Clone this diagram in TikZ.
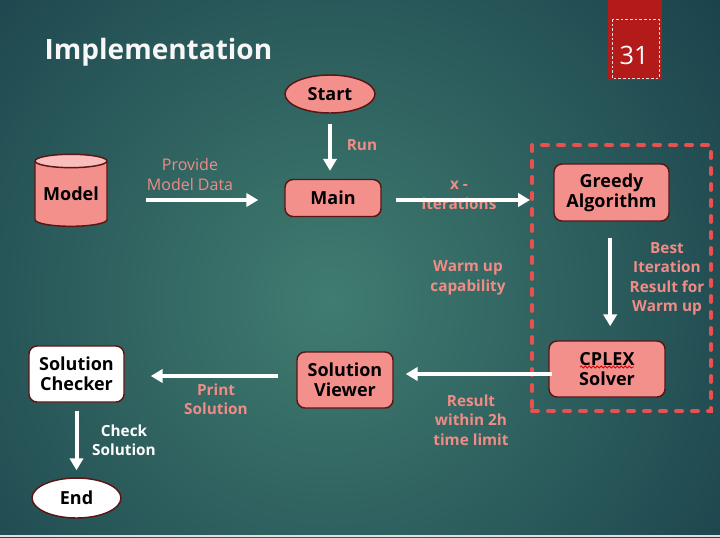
\documentclass[tikz,border=0pt]{standalone}
\usepackage{fontspec}
\setmainfont{Open Sans}
\usetikzlibrary{arrows.meta,shapes.geometric,decorations.pathmorphing}
\newdimen\pu \pu=0.75pt
\definecolor{bginner}{HTML}{407C70}
\definecolor{bgouter}{HTML}{133644}
\definecolor{boxfill}{HTML}{F4908C}
\definecolor{boxtop}{HTML}{F9BDBB}
\definecolor{boxedge}{HTML}{5C1515}
\definecolor{lblcol}{HTML}{F08C86}
\definecolor{dashcol}{HTML}{E9504F}
\definecolor{tabred}{HTML}{B31A1A}
\tikzset{
  flow/.style={draw=white, line width=3pt, -{Triangle[width=10pt,length=9pt]}},
  stepbox/.style={draw=boxedge, line width=1.1pt, fill=boxfill, rounded corners=6pt,
    align=center, inner sep=0pt, font=\bfseries\fontsize{13.5}{15}\selectfont},
  terminal/.style={ellipse, draw=boxedge, line width=1.1pt, inner sep=0pt,
    font=\bfseries\fontsize{13.5}{15}\selectfont},
  lbl/.style={text=lblcol, align=center, font=\bfseries\fontsize{11.5}{14.6}\selectfont},
}
\begin{document}
\begin{tikzpicture}[x=0.75pt,y=-0.75pt]
\useasboundingbox (0,0) rectangle (720,537);
% background
\begin{scope}
\clip (0,0) rectangle (720,537);
\shade[inner color=bginner, outer color=bgouter] (330,300) circle (600);
\end{scope}
\fill[gray!25] (0,535) rectangle (720,537);
% page tab
\fill[tabred] (608,0) rectangle (662,80);
\draw[white!75!gray, line width=0.6pt, dash pattern=on 2pt off 1.5pt] (612,19) rectangle (659,78);
\node[text=white, font=\fontsize{19}{22}\selectfont] (pagenum) at (634,55) {31};
\node[text=white!94!gray, anchor=west, font=\bfseries\fontsize{21}{24}\selectfont] (title) at (40,52) {Implementation};

% nodes
\node[terminal, fill=boxfill, minimum width=90\pu, minimum height=38\pu] (Start) at (330,94) {Start};
\node[cylinder, shape border rotate=90, aspect=0.24, draw=boxedge, line width=1.1pt,
  cylinder uses custom fill, cylinder body fill=boxfill, cylinder end fill=boxtop,
  minimum width=72\pu, minimum height=72\pu, inner sep=0pt,
  font=\bfseries\fontsize{13.5}{15}\selectfont] (Model) at (71,194) {Model};
\node[stepbox, minimum width=96\pu, minimum height=37\pu] (Main) at (333,198) {Main};
\node[draw=dashcol, line width=3pt, line cap=round, dash pattern=on 4.5pt off 7.5pt,
  minimum width=179\pu, minimum height=266\pu] (solverbox) at (621.5,278) {};
\node[stepbox, minimum width=115\pu, minimum height=57\pu] (Greedy) at (611.5,192.5) {Greedy\\Algorithm};
\node[stepbox, minimum width=116\pu, minimum height=56\pu] (CPLEX) at (607,369) {CPLEX\\Solver};
\node[stepbox, minimum width=96\pu, minimum height=56\pu] (Viewer) at (345,380) {Solution\\Viewer};
\node[stepbox, fill=white, minimum width=95\pu, minimum height=56\pu] (Checker) at (76.5,374) {Solution\\Checker};
\node[terminal, fill=white, minimum width=89\pu, minimum height=40\pu] (End) at (76.5,498) {End};
\draw[red!85!black, line width=0.6pt, decorate,
  decoration={snake, amplitude=0.8pt, segment length=3pt}] (580,367) -- (634,367);

% labels
\node[lbl] (runlbl) at (362,145) {Run};
\node[lbl, font=\fontsize{12}{15}\selectfont] (providelbl) at (190,174) {Provide\\Model Data};
\node[lbl] (iterlbl) at (459,195.5) {x -\\iterations};
\node[lbl] (warmlbl) at (468,278) {Warm up\\capability};
\node[lbl] (bestlbl) at (667,279) {Best\\Iteration\\Result for\\Warm up};
\node[lbl] (resultlbl) at (471,420) {Result\\within 2h\\time limit};
\node[lbl] (printlbl) at (216,399.5) {Print\\Solution};
\node[lbl, text=white] (checklbl) at (124,440.5) {Check\\Solution};

% connectors
\draw[flow, shorten <=7.5pt, shorten >=6pt] (Start.south) -- (Start.south |- Main.north);
\draw[flow, shorten <=28.5pt, shorten >=19.5pt] ([yshift=-1.5pt]Model.east |- Main.west) -- ([yshift=-1.5pt]Main.west);
\draw[flow, shorten <=10.5pt] ([yshift=-1.5pt]Main.east) -- ([yshift=-1.5pt]Main.east -| solverbox.west);
\draw[flow, shorten <=12pt, shorten >=10.5pt] ([xshift=-1pt]Greedy.south) -- ([xshift=-1pt]Greedy.south |- CPLEX.north);
\draw[flow, shorten <=-3pt, shorten >=9pt] ([yshift=-3.75pt]CPLEX.west) -- ([yshift=-3.75pt]CPLEX.west -| Viewer.east);
\draw[flow, shorten <=13.5pt, shorten >=19.5pt] ([yshift=3pt]Viewer.west) -- ([yshift=3pt]Viewer.west -| Checker.east);
\draw[flow, shorten <=6pt, shorten >=5.25pt] (Checker.south) -- (End.north);
\end{tikzpicture}
\end{document}
